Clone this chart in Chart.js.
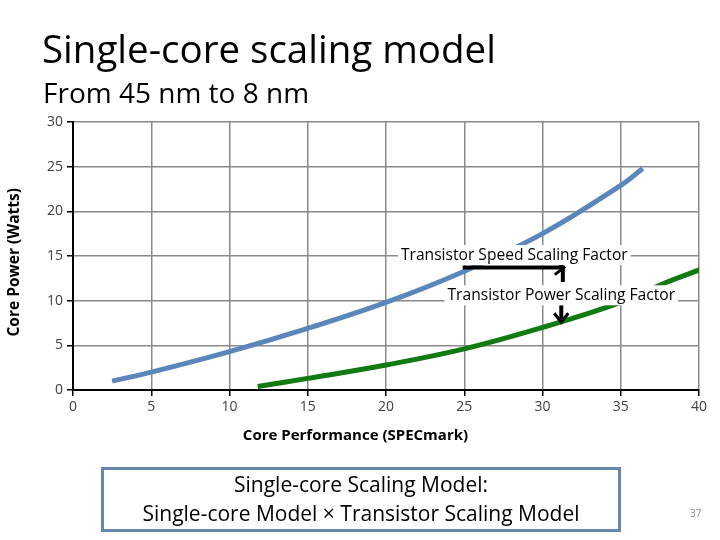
<!DOCTYPE html>
<html>
<head>
<meta charset="utf-8">
<script src="https://cdn.jsdelivr.net/npm/chart.js@4"></script>
<style>
  body { margin: 0; background: #fff; font-family: "Open Sans", "Noto Sans", sans-serif; }
  #wrap { position: relative; width: 720px; height: 540px; overflow: hidden; }
  #chart { position: absolute; left: 0; top: 0; }
  .title { position: absolute; left: 42px; top: 24px; font-size: 38.5px; line-height: 48px; color: #000; white-space: nowrap; }
  .subtitle { position: absolute; left: 43px; top: 75px; font-size: 28px; line-height: 34px; color: #000; white-space: nowrap; }
  .box { position: absolute; left: 101px; top: 467px; width: 514px; height: 59px; border: 3px solid #6786b2;
         text-align: center; font-size: 21px; line-height: 29px; color: #000; white-space: nowrap; }
  .page { position: absolute; left: 690px; top: 506px; font-size: 10px; color: #8c8c8c; }
</style>
</head>
<body>
<div id="wrap">
  <canvas id="chart" width="720" height="540"></canvas>
  <div class="title">Single-core scaling model</div>
  <div class="subtitle">From 45 nm to 8 nm</div>
  <div class="box">Single-core Scaling Model:<br>Single-core Model × Transistor Scaling Model</div>
  <div class="page">37</div>
</div>
<script>
// Single-core model (blue) and scaled model (green)
const singleCoreX = [2.5, 5, 10, 15, 20, 25, 30, 35, 36.4];
const singleCoreY = [1.0, 2.0, 4.3, 6.9, 9.8, 13.3, 17.5, 22.9, 24.8];
const scaledX = [11.8, 15, 20, 25, 30, 35, 37.7, 40.1];
const scaledY = [0.4, 1.3, 2.8, 4.6, 7.0, 9.8, 11.9, 13.5];
const xTicks = [0, 5, 10, 15, 20, 25, 30, 35, 40];
const yTicks = [0, 5, 10, 15, 20, 25, 30];
const xTitle = 'Core Performance (SPECmark)';
const yTitle = 'Core Power (Watts)';

const FONT = '"Open Sans", "Noto Sans", sans-serif';

function toPoints(xs, ys) {
    return xs.map(function(x, i) { return { x: x, y: ys[i] }; });
}

// axis titles (slightly off-centre in the original), annotation labels and arrows
const annotations = {
    id: 'annotations',
    afterDatasetsDraw: function(chart) {
        const ctx = chart.ctx;
        const xs = chart.scales.x, ys = chart.scales.y;
        ctx.save();

        ctx.fillStyle = '#000';
        ctx.font = 'bold 15px ' + FONT;
        ctx.textAlign = 'center';
        ctx.textBaseline = 'middle';
        ctx.fillText(xTitle, xs.getPixelForValue(18.05), chart.chartArea.bottom + 46);
        ctx.save();
        ctx.translate(15, ys.getPixelForValue(14.3));
        ctx.rotate(-Math.PI / 2);
        ctx.font = 'bold 15.5px ' + FONT;
        ctx.fillText(yTitle, 0, 0);
        ctx.restore();

        // arrows
        ctx.strokeStyle = '#000';
        ctx.lineWidth = 4;
        ctx.lineCap = 'butt';
        const ax0 = xs.getPixelForValue(24.9), ax1 = xs.getPixelForValue(31.3);
        const ay = ys.getPixelForValue(13.7);
        ctx.beginPath();
        ctx.moveTo(ax0, ay);
        ctx.lineTo(ax1, ay);
        ctx.lineTo(ax1, ys.getPixelForValue(12.1));
        ctx.stroke();
        ctx.lineWidth = 3;
        ctx.beginPath();
        ctx.moveTo(ax1 - 8, ay - 7);
        ctx.lineTo(ax1 + 1, ay);
        ctx.lineTo(ax1 - 8, ay + 7);
        ctx.stroke();

        const bx = xs.getPixelForValue(31.2);
        const by0 = ys.getPixelForValue(9.5), by1 = ys.getPixelForValue(7.7);
        ctx.lineWidth = 4;
        ctx.beginPath();
        ctx.moveTo(bx, by0);
        ctx.lineTo(bx, by1);
        ctx.stroke();
        ctx.lineWidth = 3;
        ctx.beginPath();
        ctx.moveTo(bx - 7, by1 - 8);
        ctx.lineTo(bx, by1 + 1);
        ctx.lineTo(bx + 7, by1 - 8);
        ctx.stroke();

        // labels with white background
        ctx.font = '15.6px ' + FONT;
        [['Transistor Speed Scaling Factor', 28.2, 15.1],
         ['Transistor Power Scaling Factor', 31.2, 10.6]].forEach(function(a) {
            const px = xs.getPixelForValue(a[1]), py = ys.getPixelForValue(a[2]);
            const w = ctx.measureText(a[0]).width;
            ctx.fillStyle = '#fff';
            ctx.fillRect(px - w / 2 - 3, py - 10, w + 6, 20);
            ctx.fillStyle = '#000';
            ctx.fillText(a[0], px, py);
        });
        ctx.restore();
    }
};

new Chart(document.getElementById('chart'), {
    type: 'line',
    data: {
        datasets: [{
            label: 'Single-core model',
            data: toPoints(singleCoreX, singleCoreY),
            borderColor: '#5a86bc',
            borderWidth: 5,
            pointRadius: 0,
            tension: 0.4,
            fill: false
        }, {
            label: 'Scaled model',
            data: toPoints(scaledX, scaledY),
            borderColor: '#117a11',
            borderWidth: 5,
            pointRadius: 0,
            tension: 0.4,
            fill: false
        }]
    },
    options: {
        responsive: false,
        animation: false,
        events: [],
        layout: { padding: { top: 122, right: 21, bottom: 94, left: 0 } },
        plugins: {
            legend: { display: false },
            tooltip: { enabled: false }
        },
        scales: {
            x: {
                type: 'linear',
                min: 0,
                max: 40,
                afterBuildTicks: function(scale) {
                    scale.ticks = xTicks.map(function(v) { return { value: v }; });
                },
                afterFit: function(scale) { scale.height = 56; },
                grid: { color: '#8a8a8a', lineWidth: 1.5, tickColor: '#000', tickLength: 6 },
                border: { color: '#000', width: 2 },
                ticks: { color: '#404040', font: { family: FONT, size: 14 }, padding: 3 }
            },
            y: {
                min: 0,
                max: 30,
                afterBuildTicks: function(scale) {
                    scale.ticks = yTicks.map(function(v) { return { value: v }; });
                },
                afterFit: function(scale) { scale.width = 73; },
                grid: { color: '#8a8a8a', lineWidth: 1.5, tickColor: '#000', tickLength: 6 },
                border: { color: '#000', width: 2 },
                ticks: { color: '#404040', font: { family: FONT, size: 14 }, padding: 4 }
            }
        }
    },
    plugins: [annotations]
});
</script>
</body>
</html>
